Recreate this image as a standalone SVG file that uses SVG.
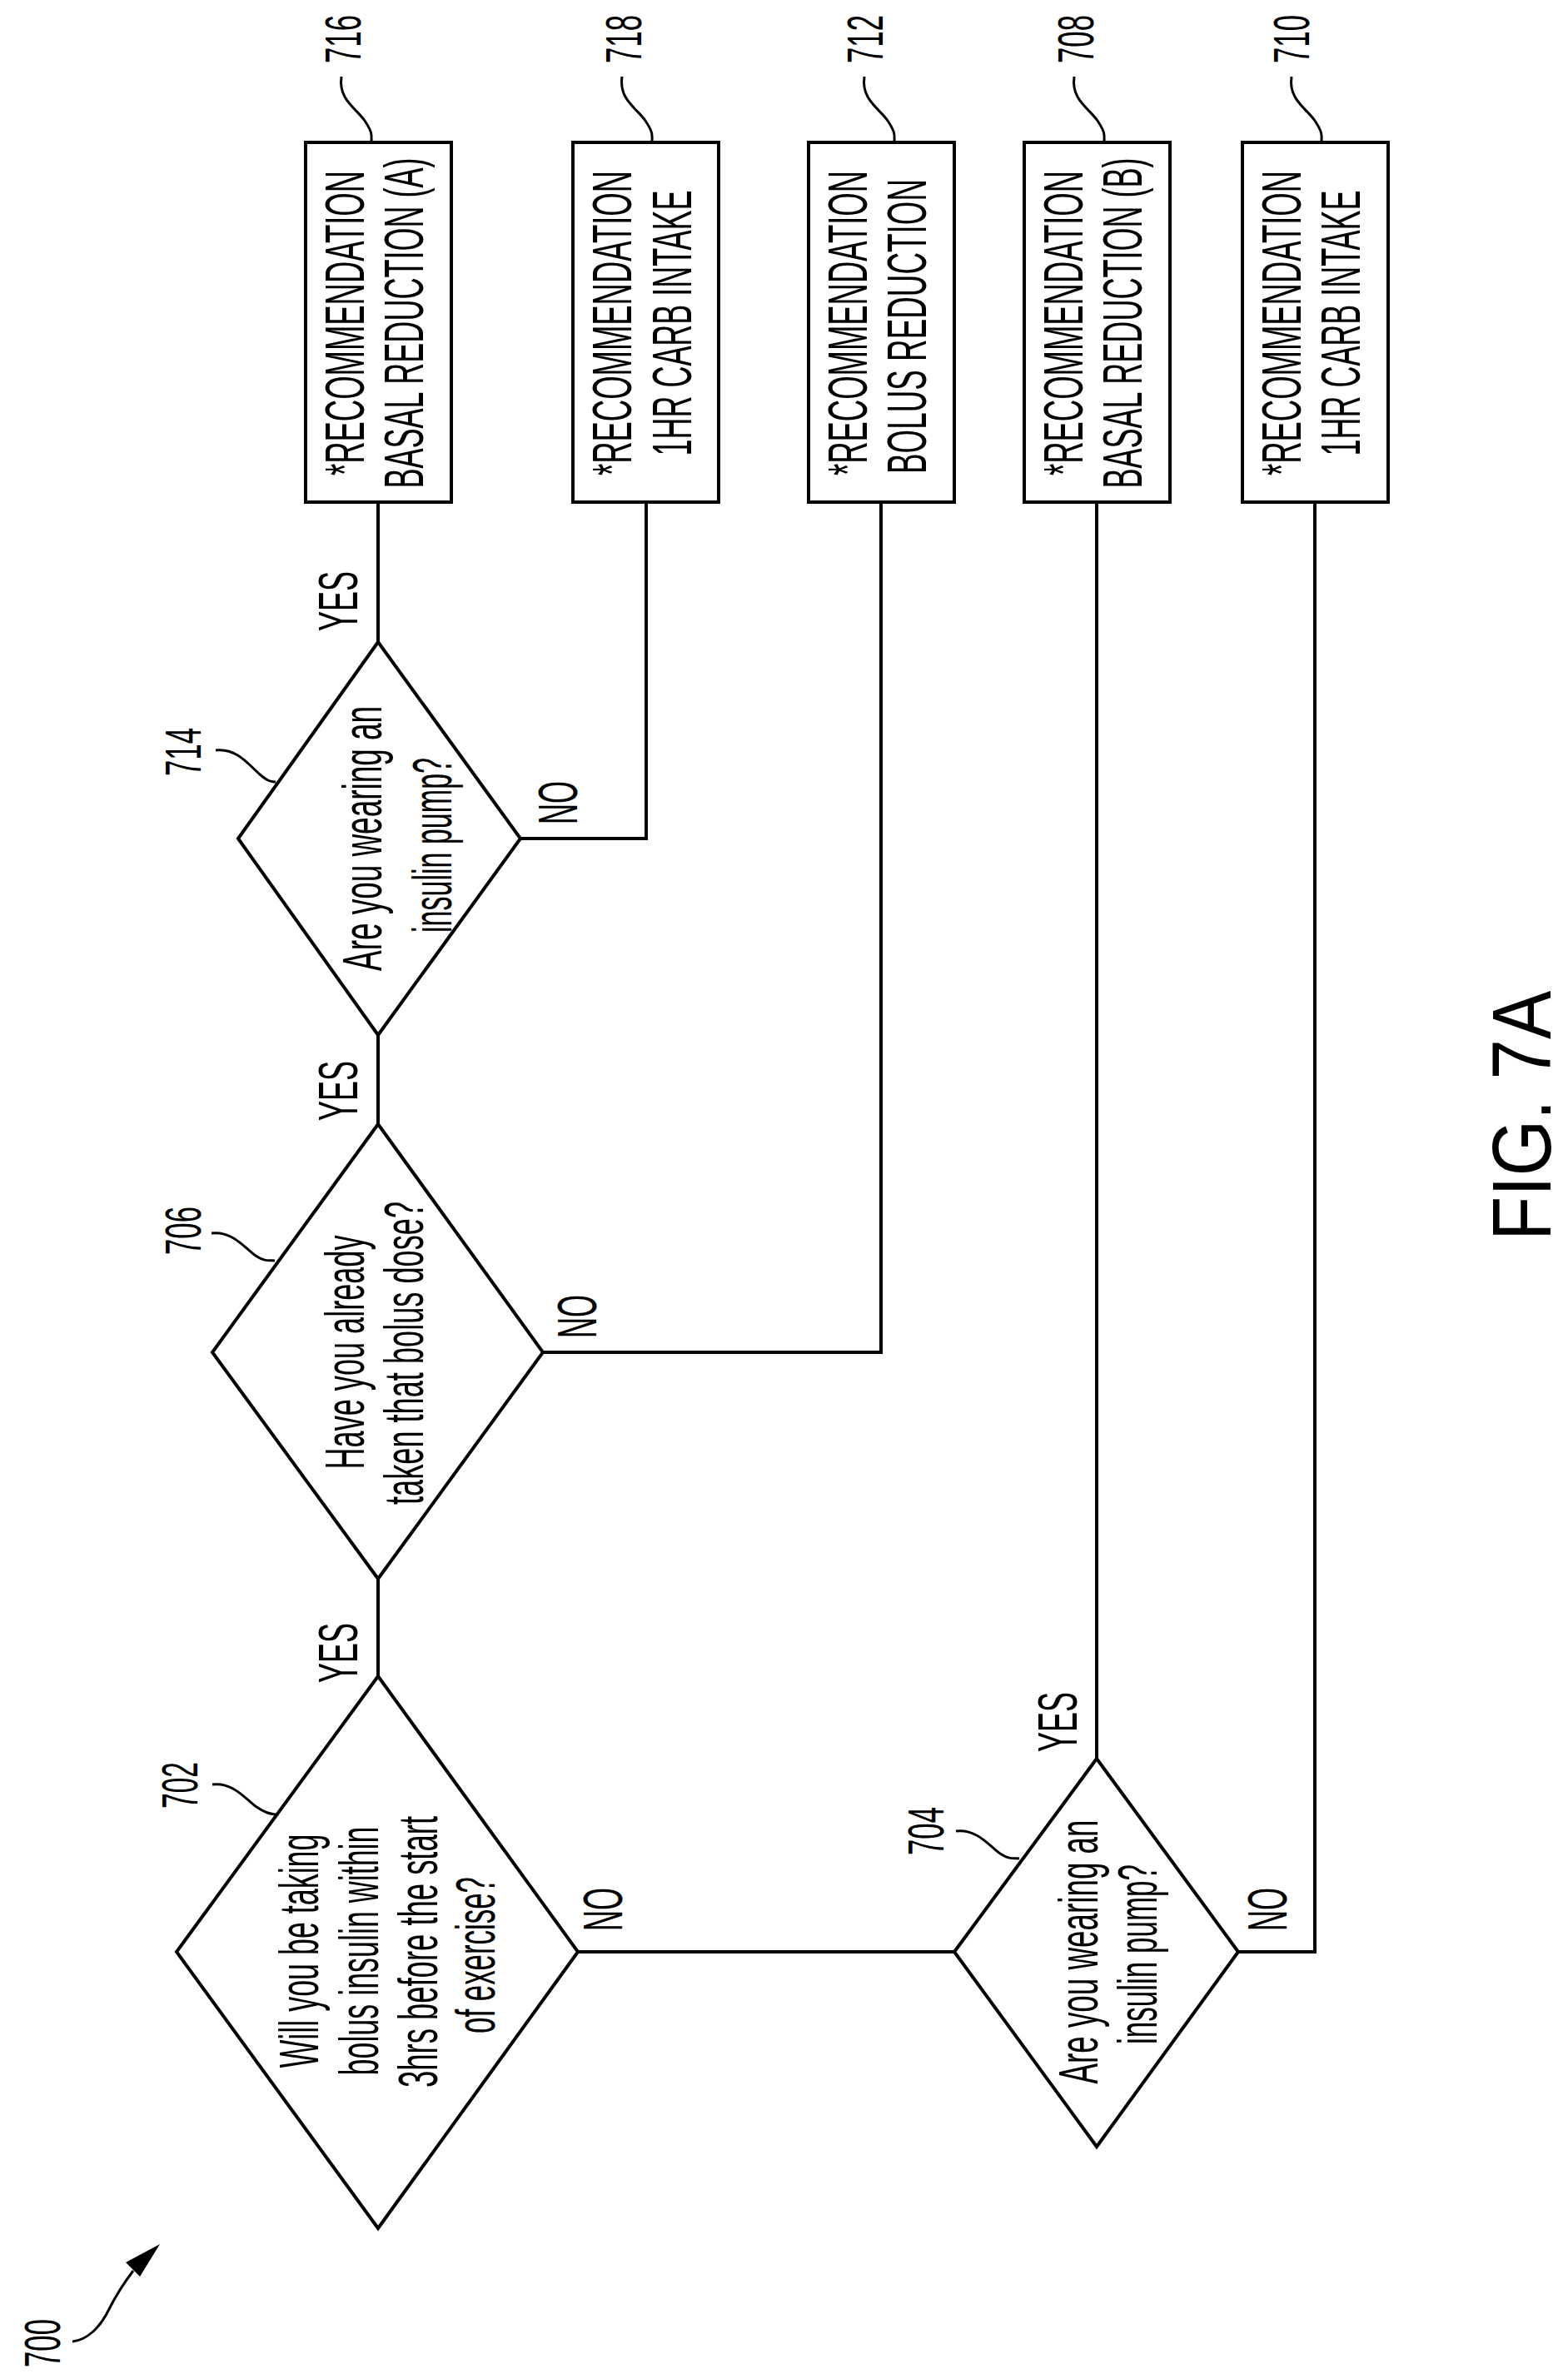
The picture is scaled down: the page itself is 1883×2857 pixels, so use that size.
<svg xmlns="http://www.w3.org/2000/svg" width="1883" height="2857" viewBox="0 0 1883 2857">
<style>
.s{fill:none;stroke:#000;stroke-width:4}
.l{fill:none;stroke:#000;stroke-width:3}
text{font-family:"Liberation Sans",Arial,sans-serif;font-size:66px;fill:#000;text-anchor:middle}
.n{font-size:62px}
.f{font-size:100px}
</style>
<rect width="1883" height="2857" fill="#fff"/>
<g id="connectors" class="s">
<path d="M454,603V771"/>
<path d="M625,1007H776V603"/>
<path d="M454,1243V1350"/>
<path d="M652,1624H1058V603"/>
<path d="M454,1896V2013"/>
<path d="M694,2344H1146"/>
<path d="M1317,2112V603"/>
<path d="M1487,2344H1579V603"/>
</g>
<g id="edge-labels">
<text transform="translate(429,722) rotate(-90)" textLength="72" lengthAdjust="spacingAndGlyphs">YES</text>
<text transform="translate(693,964) rotate(-90)" textLength="52" lengthAdjust="spacingAndGlyphs">NO</text>
<text transform="translate(429,1310) rotate(-90)" textLength="72" lengthAdjust="spacingAndGlyphs">YES</text>
<text transform="translate(716,1581) rotate(-90)" textLength="52" lengthAdjust="spacingAndGlyphs">NO</text>
<text transform="translate(429,1985) rotate(-90)" textLength="72" lengthAdjust="spacingAndGlyphs">YES</text>
<text transform="translate(747,2293) rotate(-90)" textLength="52" lengthAdjust="spacingAndGlyphs">NO</text>
<text transform="translate(1293,2068) rotate(-90)" textLength="72" lengthAdjust="spacingAndGlyphs">YES</text>
<text transform="translate(1545,2293) rotate(-90)" textLength="52" lengthAdjust="spacingAndGlyphs">NO</text>
</g>
<g id="n716">
<rect class="s" x="367" y="171" width="175" height="432"/>
<text transform="translate(437,388) rotate(-90)" textLength="366" lengthAdjust="spacingAndGlyphs">*RECOMMENDATION</text>
<text transform="translate(508,388) rotate(-90)" textLength="397" lengthAdjust="spacingAndGlyphs">BASAL REDUCTION (A)</text>
<text class="n" transform="translate(433,47) rotate(-90)" textLength="58" lengthAdjust="spacingAndGlyphs">716</text>
<path class="l" d="M410,92C406,120 428,130 438,145S446,162 446,171"/>
</g>
<g id="n718">
<rect class="s" x="688" y="171" width="175" height="432"/>
<text transform="translate(758,388) rotate(-90)" textLength="366" lengthAdjust="spacingAndGlyphs">*RECOMMENDATION</text>
<text transform="translate(830,388) rotate(-90)" textLength="319" lengthAdjust="spacingAndGlyphs">1HR CARB INTAKE</text>
<text class="n" transform="translate(770,47) rotate(-90)" textLength="58" lengthAdjust="spacingAndGlyphs">718</text>
<path class="l" d="M747,92C743,120 765,130 775,145S783,162 783,171"/>
</g>
<g id="n712">
<rect class="s" x="971" y="171" width="175" height="432"/>
<text transform="translate(1041,388) rotate(-90)" textLength="366" lengthAdjust="spacingAndGlyphs">*RECOMMENDATION</text>
<text transform="translate(1112,392) rotate(-90)" textLength="354" lengthAdjust="spacingAndGlyphs">BOLUS REDUCTION</text>
<text class="n" transform="translate(1060,47) rotate(-90)" textLength="58" lengthAdjust="spacingAndGlyphs">712</text>
<path class="l" d="M1038,92C1034,120 1056,130 1066,145S1074,162 1074,171"/>
</g>
<g id="n708">
<rect class="s" x="1230" y="171" width="175" height="432"/>
<text transform="translate(1300,388) rotate(-90)" textLength="366" lengthAdjust="spacingAndGlyphs">*RECOMMENDATION</text>
<text transform="translate(1371,388) rotate(-90)" textLength="397" lengthAdjust="spacingAndGlyphs">BASAL REDUCTION (B)</text>
<text class="n" transform="translate(1313,47) rotate(-90)" textLength="58" lengthAdjust="spacingAndGlyphs">708</text>
<path class="l" d="M1290,92C1286,120 1308,130 1318,145S1326,162 1326,171"/>
</g>
<g id="n710">
<rect class="s" x="1492" y="171" width="175" height="432"/>
<text transform="translate(1562,388) rotate(-90)" textLength="366" lengthAdjust="spacingAndGlyphs">*RECOMMENDATION</text>
<text transform="translate(1633,388) rotate(-90)" textLength="319" lengthAdjust="spacingAndGlyphs">1HR CARB INTAKE</text>
<text class="n" transform="translate(1572,47) rotate(-90)" textLength="58" lengthAdjust="spacingAndGlyphs">710</text>
<path class="l" d="M1551,92C1547,120 1569,130 1579,145S1587,162 1587,171"/>
</g>
<g id="n714">
<polygon class="s" points="454,771 625,1007 454,1243 286,1007"/>
<text transform="translate(458,1007) rotate(-90)" textLength="318" lengthAdjust="spacingAndGlyphs">Are you wearing an</text>
<text transform="translate(542,1015) rotate(-90)" textLength="210" lengthAdjust="spacingAndGlyphs">insulin pump?</text>
<text class="n" transform="translate(241,903) rotate(-90)" textLength="58" lengthAdjust="spacingAndGlyphs">714</text>
<path class="l" d="M259,901C285,898 300,920 312,930S325,938 331,939"/>
</g>
<g id="n706">
<polygon class="s" points="454,1350 652,1624 454,1896 255,1624"/>
<text transform="translate(437,1624) rotate(-90)" textLength="281" lengthAdjust="spacingAndGlyphs">Have you already</text>
<text transform="translate(508,1625) rotate(-90)" textLength="364" lengthAdjust="spacingAndGlyphs">taken that bolus dose?</text>
<text class="n" transform="translate(241,1478) rotate(-90)" textLength="58" lengthAdjust="spacingAndGlyphs">706</text>
<path class="l" d="M254,1481C280,1478 295,1500 307,1508S324,1513 330,1514"/>
</g>
<g id="n702">
<polygon class="s" points="454,2013 694,2344 454,2676 212,2344"/>
<text transform="translate(382,2343) rotate(-90)" textLength="281" lengthAdjust="spacingAndGlyphs">Will you be taking</text>
<text transform="translate(454,2343) rotate(-90)" textLength="299" lengthAdjust="spacingAndGlyphs">bolus insulin within</text>
<text transform="translate(525,2344) rotate(-90)" textLength="326" lengthAdjust="spacingAndGlyphs">3hrs before the start</text>
<text transform="translate(594,2348) rotate(-90)" textLength="188" lengthAdjust="spacingAndGlyphs">of exercise?</text>
<text class="n" transform="translate(237,2144) rotate(-90)" textLength="56" lengthAdjust="spacingAndGlyphs">702</text>
<path class="l" d="M255,2143C281,2140 296,2162 308,2170S325,2178 331,2179"/>
</g>
<g id="n704">
<polygon class="s" points="1317,2112 1487,2344 1317,2578 1146,2344"/>
<text transform="translate(1318,2344) rotate(-90)" textLength="317" lengthAdjust="spacingAndGlyphs">Are you wearing an</text>
<text transform="translate(1389,2347) rotate(-90)" textLength="216" lengthAdjust="spacingAndGlyphs">insulin pump?</text>
<text class="n" transform="translate(1133,2199) rotate(-90)" textLength="58" lengthAdjust="spacingAndGlyphs">704</text>
<path class="l" d="M1148,2199C1174,2196 1189,2218 1201,2226S1218,2231 1224,2232"/>
</g>
<g id="n700">
<text class="n" transform="translate(72,2814) rotate(-90)" textLength="58" lengthAdjust="spacingAndGlyphs">700</text>
<path class="l" d="M87,2812C105,2810 120,2795 130,2775S150,2740 160,2727"/>
<polygon points="192,2695 151,2717 168,2734" fill="#000"/>
</g>
<text class="f" transform="translate(1862,1340) rotate(-90)" textLength="300" lengthAdjust="spacingAndGlyphs">FIG. 7A</text>
</svg>
